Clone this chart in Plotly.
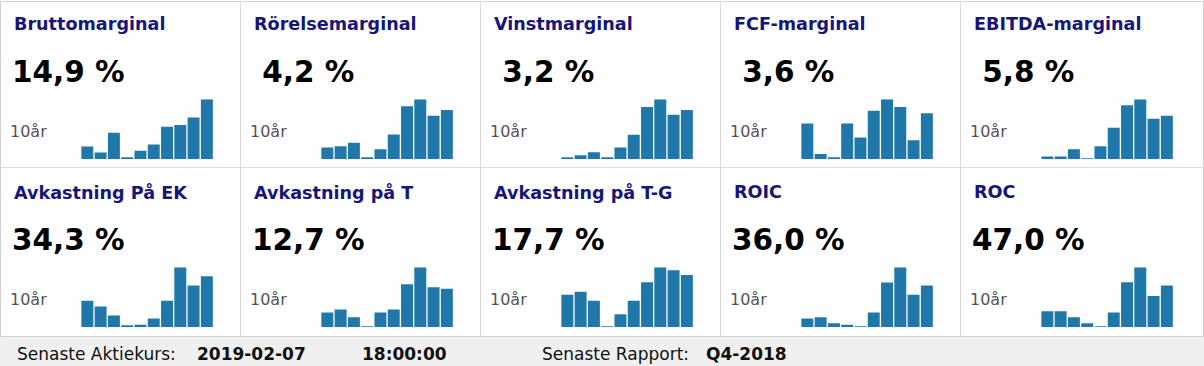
import plotly.graph_objects as go

W, H = 1204, 366

years = [str(y) for y in range(2009, 2019)]

titles = ["Bruttomarginal", "Rörelsemarginal", "Vinstmarginal", "FCF-marginal", "EBITDA-marginal",
          "Avkastning På EK", "Avkastning på T", "Avkastning på T-G", "ROIC", "ROC"]
headline = ["14,9 %", " 4,2 %", " 3,2 %", " 3,6 %", " 5,8 %",
            "34,3 %", "12,7 %", "17,7 %", "36,0 %", "47,0 %"]

bruttomarginal = [3.2, 1.7, 6.6, 0.25, 2.1, 3.7, 8.1, 8.5, 10.4, 14.9]
rorelsemarginal = [1.0, 1.1, 1.4, 0.09, 0.86, 2.1, 4.5, 5.1, 3.7, 4.2]
vinstmarginal = [0.09, 0.26, 0.46, 0.07, 0.76, 1.6, 3.4, 3.9, 2.9, 3.2]
fcf_marginal = [2.8, 0.42, 0.08, 2.8, 1.7, 3.8, 4.7, 4.1, 1.5, 3.6]
ebitda_marginal = [0.36, 0.36, 1.35, 0.13, 1.75, 4.2, 7.2, 8.0, 5.4, 5.8]
avk_ek = [17.8, 14.0, 7.9, 0.7, 1.8, 5.9, 17.8, 40.4, 28.2, 34.3]
avk_t = [4.9, 5.9, 3.3, 0.33, 4.9, 5.9, 14.2, 19.8, 13.2, 12.7]
avk_tg = [11.0, 12.0, 9.0, 0.34, 4.4, 9.0, 15.2, 20.3, 19.3, 17.7]
roic = [7.5, 8.6, 3.5, 2.3, 0.86, 12.7, 38.6, 51.6, 27.9, 36.0]
roc = [18.0, 18.0, 11.3, 4.5, 1.1, 16.5, 50.4, 67.3, 35.0, 47.0]

series = [bruttomarginal, rorelsemarginal, vinstmarginal, fcf_marginal, ebitda_marginal,
          avk_ek, avk_t, avk_tg, roic, roc]

footer_labels = ["Senaste Aktiekurs:", "2019-02-07", "18:00:00", "Senaste Rapport:", "Q4-2018"]

BAR = "#1f77aa"
TITLE_C = "#16167a"
FONT = "DejaVu Sans"

def px(x):
    return x / W

def py(y):
    return 1 - y / H

fig = go.Figure()
annotations = []
shapes = []
layout_axes = {}

panel_w = 240
row_top = [0, 168]

for i, vals in enumerate(series):
    r, c = divmod(i, 5)
    x0 = c * panel_w
    y0 = row_top[r]
    n = i + 1
    xa = "x" if n == 1 else f"x{n}"
    ya = "y" if n == 1 else f"y{n}"
    fig.add_trace(go.Bar(x=years, y=vals, xaxis=xa, yaxis=ya, marker_color=BAR,
                         marker_line_width=0, showlegend=False, hoverinfo="x+y"))
    xkey = "xaxis" if n == 1 else f"xaxis{n}"
    ykey = "yaxis" if n == 1 else f"yaxis{n}"
    layout_axes[xkey] = dict(domain=[px(x0 + 80.7), px(x0 + 213.5)], anchor=ya,
                             visible=False, fixedrange=True)
    layout_axes[ykey] = dict(domain=[py(y0 + 159.3), py(y0 + 99.3)], anchor=xa,
                             range=[0, max(vals)], visible=False, fixedrange=True)
    annotations.append(dict(x=px(x0 + 12), y=py(y0 + 24), xref="paper", yref="paper",
                            text=f"<b>{titles[i]}</b>", showarrow=False, xanchor="left",
                            yanchor="middle", font=dict(family=FONT, size=17.6, color=TITLE_C)))
    txt = headline[i]
    if txt.startswith(" "):
        txt = "&nbsp;" + txt[1:]
    annotations.append(dict(x=px(x0 + 10), y=py(y0 + 72), xref="paper", yref="paper",
                            text=f"<b>{txt}</b>",
                            showarrow=False, xanchor="left",
                            yanchor="middle", font=dict(family=FONT, size=29.5, color="#000000")))
    annotations.append(dict(x=px(x0 + 8), y=py(y0 + 131), xref="paper", yref="paper",
                            text="10år", showarrow=False, xanchor="left",
                            yanchor="middle", font=dict(family=FONT, size=16, color="#555555")))

# footer
shapes.append(dict(type="rect", xref="paper", yref="paper", x0=0, x1=1, y0=0, y1=py(337),
                   fillcolor="#f0f0f0", line_width=0, layer="below"))
# container
shapes.append(dict(type="rect", xref="paper", yref="paper", x0=px(0.5), x1=px(1203.5),
                   y0=py(336.5), y1=py(1.5), fillcolor="white", line=dict(color="#d0d0d0", width=1),
                   layer="below"))
for c in range(1, 5):
    shapes.append(dict(type="line", xref="paper", yref="paper", x0=px(c * panel_w + 0.5),
                       x1=px(c * panel_w + 0.5), y0=py(336), y1=py(2),
                       line=dict(color="#dadada", width=1)))
shapes.append(dict(type="line", xref="paper", yref="paper", x0=0, x1=1, y0=py(167.5), y1=py(167.5),
                   line=dict(color="#dadada", width=1)))

footer_x = [15, 195, 360, 540, 704]
footer_bold = [False, True, True, False, True]
for x, t, b in zip(footer_x, footer_labels, footer_bold):
    annotations.append(dict(x=px(x), y=py(354), xref="paper", yref="paper",
                            text=f"<b>{t}</b>" if b else t, showarrow=False, xanchor="left",
                            yanchor="middle", font=dict(family=FONT, size=17, color="#111111")))

fig.update_layout(width=W, height=H, margin=dict(l=0, r=0, t=0, b=0),
                  paper_bgcolor="white", plot_bgcolor="rgba(0,0,0,0)", bargap=0.1,
                  annotations=annotations, shapes=shapes, **layout_axes)

fig.write_html("out.html", config={"displayModeBar": False},
               post_script="document.body.style.margin='0';document.body.style.padding='0';document.body.style.overflow='hidden';")
